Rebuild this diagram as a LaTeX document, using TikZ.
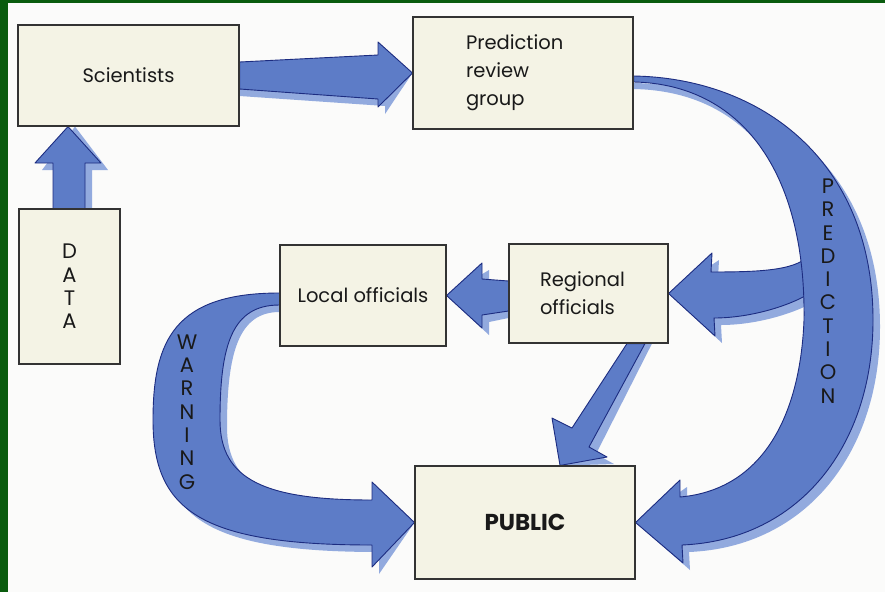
\documentclass[tikz,border=0pt]{standalone}
\usepackage{fontspec}
\setmainfont{Poppins}
\usepackage{tikz}

\definecolor{arrowblue}{RGB}{93,124,199}
\definecolor{arrowline}{RGB}{28,44,128}
\definecolor{arrowshade}{RGB}{128,156,218}
\definecolor{boxcream}{RGB}{244,243,229}
\definecolor{pagegreen}{RGB}{10,92,14}
\definecolor{paper}{RGB}{251,251,250}
\definecolor{ink}{RGB}{25,25,25}

\pgfdeclarelayer{back}
\pgfsetlayers{back,main}

% block arrow with its pale drop shadow
\newcommand{\flowarrow}[1]{%
\fill[arrowshade,opacity=0.85,shift={(7,7)}] #1;
\filldraw[fill=arrowblue,draw=arrowline,line width=0.9pt,line join=round] #1;}

\begin{document}
\begin{tikzpicture}[x=1pt,y=-1pt,
  box/.style={draw=black!80,fill=boxcream,line width=1.1pt,inner sep=0pt,text=ink,
    font=\fontsize{19.5}{28}\selectfont},
  lettering/.style={align=center,text=ink,font=\fontsize{21}{23.3}\selectfont}]
\useasboundingbox (0,0) rectangle (885,592);

\node[box,minimum width=221,minimum height=101] (sci) at (128.5,75.5) {Scientists};
\node[box,minimum width=220,minimum height=112,text width=114,align=left] (pred) at (523,73) {Prediction\\review\\group};
\node[box,minimum width=101,minimum height=155,lettering] (data) at (69.5,286.5) {D\\A\\T\\A};
\node[box,minimum width=166,minimum height=101] (loc) at (363,295.5) {Local officials};
\node[box,minimum width=159,minimum height=99,text width=97,align=left] (reg) at (588.5,293.5) {Regional\\officials};
\node[box,minimum width=220,minimum height=113,font=\fontsize{23}{26}\selectfont\bfseries] (pub) at (525,522.5) {PUBLIC};
\node[lettering] (warn) at (187,412) {W\\A\\R\\N\\I\\N\\G};
\node[lettering] (predword) at (828,291) {P\\R\\E\\D\\I\\C\\T\\I\\O\\N};

\begin{pgfonlayer}{back}
\fill[paper] (0,0) rectangle (885,592);
\fill[pagegreen] (0,0) rectangle (8,592);
\fill[pagegreen] (0,0) rectangle (885,2.5);

% data -> scientists
\flowarrow{(53,0 |- data.north) -- (53,163) -- (35,163) -- (68,0 |- sci.south) -- (101,163) -- (85,163) -- (85,0 |- data.north) -- cycle}
% scientists -> review group
\flowarrow{(sci.east |- 0,62) -- (378,55) -- (378,42) -- (pred.west) -- (378,107) -- (378,99) -- (sci.east |- 0,89) -- cycle}
% prediction branch -> regional
\flowarrow{(reg.east) -- (712,253) -- (711,272) .. controls (765,272) and (800,270) .. (812,252) -- (812,292) .. controls (790,306) and (750,318) .. (714,318) -- (715,336) -- cycle}
% prediction -> public
\flowarrow{(pred.east |- 0,76) .. controls (760,78) and (873,160) .. (873,320) .. controls (873,445) and (800,540) .. (682,545) -- (683,563) -- (pub.east) -- (680,480) -- (680,497) .. controls (760,490) and (800,420) .. (804,320) .. controls (806,170) and (740,84) .. (pred.east |- 0,82) -- cycle}
% regional -> local
\flowarrow{(loc.east) -- (482,263) -- (482,279) -- (reg.west |- 0,281) -- (reg.west |- 0,311) -- (482,315) -- (482,328) -- cycle}
% regional -> public
\flowarrow{(627,0 |- reg.south) -- (572,428) -- (552,418) -- (560,0 |- pub.north) -- (607,457) -- (589,447) -- (645,0 |- reg.south) -- cycle}
% warning: local -> public
\flowarrow{(loc.west |- 0,293) .. controls (175,293) and (153,340) .. (153,420) .. controls (153,510) and (200,545) .. (372,545) -- (372,567) -- (pub.west) -- (372,482) -- (372,500) .. controls (265,500) and (220,480) .. (220,420) .. controls (220,345) and (232,305) .. (loc.west |- 0,305) -- cycle}
\end{pgfonlayer}
\end{tikzpicture}
\end{document}
